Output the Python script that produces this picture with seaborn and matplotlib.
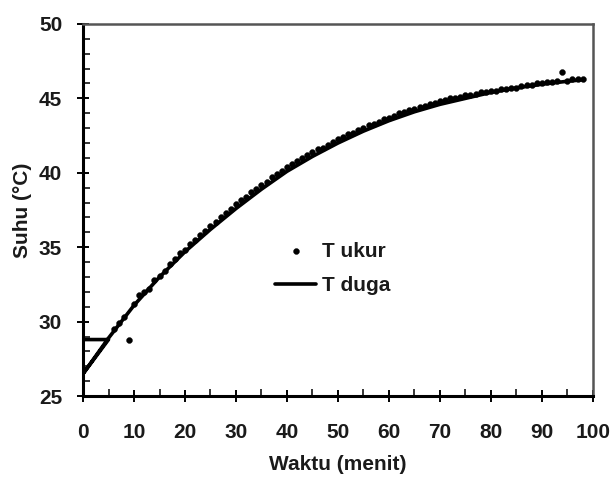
import matplotlib
matplotlib.use("Agg")
import matplotlib.pyplot as plt
import seaborn as sns
import pandas as pd
from matplotlib.ticker import MultipleLocator

# ---- data ----
t_ukur = list(range(6, 99))
T_ukur = [29.5, 29.9, 30.3, 28.8, 31.2, 31.8, 32.0, 32.2, 32.8, 33.1,
          33.4, 33.9, 34.2, 34.6, 34.8, 35.2, 35.5, 35.8, 36.1, 36.4,
          36.7, 37.0, 37.3, 37.6, 37.9, 38.2, 38.4, 38.7, 38.9, 39.2,
          39.4, 39.7, 39.9, 40.1, 40.4, 40.6, 40.8, 41.0, 41.2, 41.4,
          41.6, 41.7, 41.9, 42.1, 42.3, 42.4, 42.6, 42.7, 42.9, 43.0,
          43.2, 43.3, 43.4, 43.6, 43.7, 43.8, 44.0, 44.1, 44.2, 44.3,
          44.4, 44.5, 44.6, 44.7, 44.8, 44.9, 45.0, 45.0, 45.1, 45.2,
          45.2, 45.3, 45.4, 45.4, 45.5, 45.5, 45.6, 45.6, 45.7, 45.7,
          45.8, 45.9, 45.9, 46.0, 46.0, 46.1, 46.1, 46.2, 46.8, 46.2,
          46.3, 46.3, 46.3]

# T duga: short initial horizontal segment, then model curve
t_duga = [0, 5, 0, 5, 10, 15, 20, 25, 30, 35, 40, 45, 50, 55, 60,
          65, 70, 75, 80, 85, 90, 95, 98]
T_duga = [28.8, 28.8, 26.5, 28.9, 31.1, 33.0, 34.7, 36.2, 37.6, 38.9,
          40.1, 41.1, 42.0, 42.8, 43.5, 44.1, 44.6, 45.0, 45.4, 45.7,
          45.95, 46.15, 46.25]

x_ticks = [0, 10, 20, 30, 40, 50, 60, 70, 80, 90, 100]
y_ticks = [25, 30, 35, 40, 45, 50]

df_u = pd.DataFrame({"t": t_ukur, "T": T_ukur})
df_d = pd.DataFrame({"t": t_duga, "T": T_duga})

sns.set_style("ticks")
plt.rcParams["font.family"] = ["Liberation Sans", "DejaVu Sans"]
plt.rcParams["font.weight"] = "bold"

txt = "#1a1a1a"
fig = plt.figure(figsize=(6.15, 4.79), dpi=100)
ax = fig.add_axes([0.135, 0.173, 0.829, 0.777])

sns.lineplot(data=df_d, x="t", y="T", sort=False, estimator=None,
             color="black", linewidth=2.6, ax=ax, label="T duga", zorder=2)
sns.scatterplot(data=df_u, x="t", y="T", color="black", s=18,
                edgecolor="black", linewidth=0.3, ax=ax, label="T ukur", zorder=3)

ax.set_xlim(0, 100)
ax.set_ylim(25, 50)
ax.set_xticks(x_ticks)
ax.set_yticks(y_ticks)
ax.xaxis.set_minor_locator(MultipleLocator(5))
ax.yaxis.set_minor_locator(MultipleLocator(1))
ax.tick_params(which="major", direction="inout", length=9, width=1.4,
               colors="black", labelcolor=txt, labelsize=15)
ax.tick_params(axis="x", which="major", pad=14.5)
ax.tick_params(axis="y", which="major", pad=10.5)
ax.tick_params(which="minor", direction="in", length=5, width=1.1,
               colors="black")
for lab in ax.get_xticklabels() + ax.get_yticklabels():
    lab.set_fontweight("bold")

for s in ["left", "bottom"]:
    ax.spines[s].set_color("black")
    ax.spines[s].set_linewidth(2.2)
for s in ["top", "right"]:
    ax.spines[s].set_visible(True)
    ax.spines[s].set_color("#555555")
    ax.spines[s].set_linewidth(1.8)

ax.set_xlabel("Waktu (menit)", fontsize=15, fontweight="bold", labelpad=10,
              color=txt)
ax.set_ylabel("Suhu (°C)", fontsize=15, fontweight="bold", labelpad=5,
              color=txt)

h, l = ax.get_legend_handles_labels()
order = [l.index("T ukur"), l.index("T duga")]
leg = ax.legend([h[i] for i in order], [l[i] for i in order],
                loc="upper left", bbox_to_anchor=(0.376, 0.415), frameon=False,
                prop={"size": 15, "weight": "bold"}, handlelength=2.0,
                handletextpad=0.25, labelspacing=0.75, borderpad=0,
                borderaxespad=0)
for t in leg.get_texts():
    t.set_color(txt)

fig.savefig("out.png", dpi=100, facecolor="white")
